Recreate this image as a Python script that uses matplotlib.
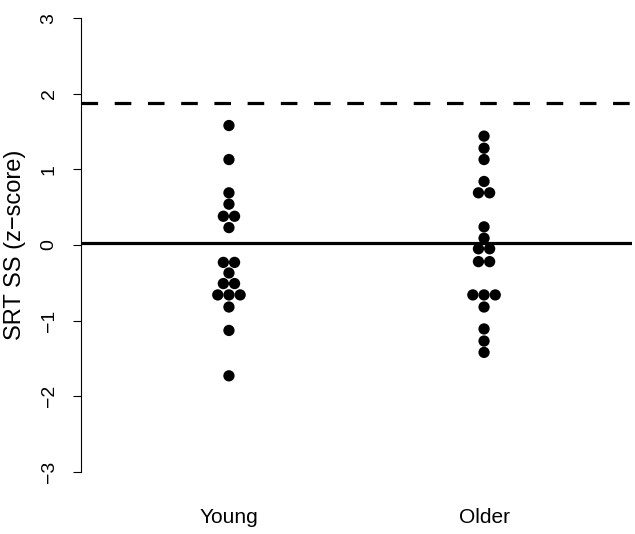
import numpy as np
import matplotlib
matplotlib.use("Agg")
import matplotlib.pyplot as plt

plt.rcParams['font.family'] = ['Liberation Sans', 'DejaVu Sans']

groups = ["Young", "Older"]
young = [1.58, 1.13, 0.69, 0.54, 0.38, 0.38, 0.23, -0.23, -0.23, -0.37,
         -0.51, -0.51, -0.66, -0.66, -0.66, -0.82, -1.13, -1.73]
older = [1.44, 1.28, 1.13, 0.84, 0.69, 0.69, 0.24, 0.09, -0.05, -0.05,
         -0.22, -0.22, -0.66, -0.66, -0.66, -0.82, -1.11, -1.27, -1.42]
ref_line = 0.03
crit_line = 1.88
yticks = [-3, -2, -1, 0, 1, 2, 3]

W, H = 635, 534
fig = plt.figure(figsize=(W / 100, H / 100), dpi=100)
left_px, right_px, top_px, bot_px = 81, 632, 0, 490
ax = fig.add_axes([left_px / W, (H - bot_px) / H,
                   (right_px - left_px) / W, (bot_px - top_px) / H])
xlim = (0.42, 2.58)
ax.set_xlim(*xlim)
ax.set_ylim(-3.24, 3.24)

# beeswarm-like centred offsets for equal values
marker_px = 11.2
dx = marker_px / ((right_px - left_px) / (xlim[1] - xlim[0]))

def swarm(vals, center):
    vals = np.asarray(vals, dtype=float)
    xs = np.zeros_like(vals)
    for v in np.unique(vals):
        idx = np.where(vals == v)[0]
        n = len(idx)
        for k, i in enumerate(idx):
            xs[i] = center + (k - (n - 1) / 2) * dx
    return xs, vals

for i, vals in enumerate([young, older]):
    xs, ys = swarm(vals, i + 1)
    ax.scatter(xs, ys, s=66, color='black', edgecolors='none', zorder=3)

ax.axhline(ref_line, color='black', lw=2.3, zorder=2)
ax.axhline(crit_line, color='black', lw=2.3, linestyle=(0, (5.2, 5.2)), zorder=2)

for s in ['top', 'right', 'bottom']:
    ax.spines[s].set_visible(False)
ax.spines['left'].set_bounds(-3, 3)
ax.spines['left'].set_linewidth(0.8)

ax.set_yticks(yticks)
ax.set_yticklabels([str(t).replace('-', '\u2212') for t in yticks])
ax.tick_params(axis='y', length=5.8, width=0.8, labelsize=14, pad=11,
               labelrotation=90)
for lab in ax.get_yticklabels():
    lab.set_va('center')

ax.set_xticks([1, 2])
ax.set_xticklabels(groups)
ax.tick_params(axis='x', length=0, labelsize=15, pad=13)

ax.set_ylabel("SRT SS (z\u2212score)", fontsize=17)
ax.yaxis.set_label_coords((26 - left_px) / (right_px - left_px), 0.5)

fig.savefig("out.png", dpi=100)
